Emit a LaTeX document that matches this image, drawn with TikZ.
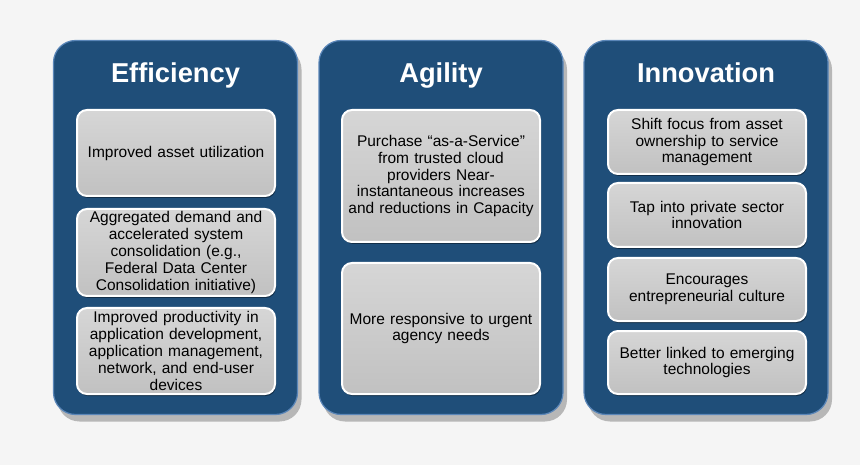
\documentclass[tikz,border=0pt]{standalone}
\usepackage{fontspec}
\setmainfont{Liberation Sans}
\usetikzlibrary{positioning, shadows}
\definecolor{bggray}{HTML}{F5F5F5}
\definecolor{panelblue}{HTML}{1F4E79}
\definecolor{paneledge}{HTML}{5A86B8}
\definecolor{boxtop}{HTML}{D6D6D6}
\definecolor{boxbot}{HTML}{C1C1C1}
\begin{document}
\begin{tikzpicture}[
    x=1pt, y=-1pt,
    every node/.style={font=\fontsize{15.5}{16.8}\selectfont, align=center},
    panel/.style={rectangle, rounded corners=22pt, draw=paneledge, line width=1.2pt, fill=panelblue, minimum width=244pt, minimum height=374pt, drop shadow={shadow xshift=4pt, shadow yshift=-7pt, opacity=0.25, fill=black}},
    heading/.style={font=\fontsize{27.3}{30}\selectfont\bfseries, text=white, anchor=base},
    item/.style={rectangle, rounded corners=10pt, draw=white, line width=2pt, top color=boxtop, bottom color=boxbot, minimum width=198pt, text width=194pt, inner sep=0pt, drop shadow={shadow xshift=1pt, shadow yshift=-2pt, opacity=0.4, fill=black}}
]
    \fill[bggray] (0,0) rectangle (860,465);

    % Panels
    \node[panel] (eff) at (175.5,227.5) {};
    \node[panel] (agi) at (441,227.5) {};
    \node[panel] (inn) at (706,227.5) {};

    \node[heading] (efftitle) at (175.5,83) {Efficiency};
    \node[heading] (agititle) at (441,83) {Agility};
    \node[heading] (inntitle) at (706,83) {Innovation};

    % Efficiency
    \node[item, minimum height=86pt] (eff1) at (176,153) {Improved asset utilization};
    \node[item, minimum height=87pt, below=11pt of eff1] (eff2) {Aggregated demand and\\accelerated system\\consolidation (e.g.,\\Federal Data Center\\Consolidation initiative)};
    \node[item, minimum height=86pt, below=10pt of eff2] (eff3) {Improved productivity in\\application development,\\application management,\\network, and end-user\\devices};

    % Agility
    \node[item, minimum height=132pt] (agi1) at (441,176) {Purchase “as-a-Service”\\from trusted cloud\\providers Near-\\instantaneous increases\\and reductions in Capacity};
    \node[item, minimum height=131pt, below=19pt of agi1] (agi2) {More responsive to urgent\\agency needs};

    % Innovation
    \node[item, minimum height=64pt] (inn1) at (707,142) {Shift focus from asset\\ownership to service\\management};
    \node[item, minimum height=64pt, below=7pt of inn1] (inn2) {Tap into private sector\\innovation};
    \node[item, minimum height=63pt, below=9pt of inn2] (inn3) {Encourages\\entrepreneurial culture};
    \node[item, minimum height=63pt, below=8pt of inn3] (inn4) {Better linked to emerging\\technologies};
\end{tikzpicture}
\end{document}
